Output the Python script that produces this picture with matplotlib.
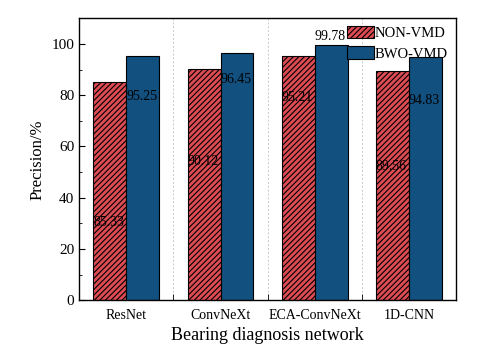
import matplotlib
matplotlib.use("Agg")
import matplotlib.pyplot as plt
import numpy as np

plt.rcParams['font.family'] = ['Liberation Serif', 'DejaVu Serif']
plt.rcParams['hatch.linewidth'] = 0.8

categories = ["ResNet", "ConvNeXt", "ECA-ConvNeXt", "1D-CNN"]
non_vmd = [85.33, 90.12, 95.21, 89.56]
bwo_vmd = [95.25, 96.45, 99.78, 94.83]
# where the value labels sit (data units), as in the original figure
non_label_y = [30.5, 54.0, 79.0, 52.0]
bwo_label_y = [79.5, 86.0, 103.0, 78.0]

x = np.arange(len(categories))
w = 0.35

fig, ax = plt.subplots(figsize=(4.8, 3.54), dpi=100)
fig.subplots_adjust(left=0.165, right=0.95, top=0.948, bottom=0.152)

ax.bar(x - w / 2, non_vmd, w, color="#DD4B53", edgecolor="black", linewidth=0.8,
       hatch="//////", label="NON-VMD")
ax.bar(x + w / 2, bwo_vmd, w, color="#11507F", edgecolor="black", linewidth=0.8,
       label="BWO-VMD")

for i in range(len(categories)):
    ax.text(x[i] - w, non_label_y[i], f"{non_vmd[i]:.2f}", ha="left", va="center", fontsize=10)
    ax.text(x[i], bwo_label_y[i], f"{bwo_vmd[i]:.2f}", ha="left", va="center", fontsize=10)

for sep in x[:-1] + 0.5:
    ax.axvline(sep, color="#C8C8C8", linestyle=(0, (2, 2)), linewidth=0.7, zorder=0)

ax.set_xlim(-0.5, len(categories) - 0.5)
ax.set_ylim(0, 110)
ax.set_yticks(range(0, 101, 20))
ax.set_yticks(range(10, 110, 20), minor=True)
ax.set_xticks(x)
ax.set_xticklabels(categories)
ax.set_xticks(x[:-1] + 0.5, minor=True)
ax.tick_params(axis="x", which="major", length=0, labelsize=10, pad=6)
ax.tick_params(axis="x", which="minor", direction="in", length=4)
ax.tick_params(axis="y", which="major", direction="in", length=4, labelsize=11)
ax.tick_params(axis="y", which="minor", direction="in", length=2.5)
for s in ax.spines.values():
    s.set_linewidth(1.0)

ax.set_xlabel("Bearing diagnosis network", fontsize=13)
ax.set_ylabel("Precision/%", fontsize=12)

ax.legend(loc="upper right", bbox_to_anchor=(0.985, 0.985), frameon=False, fontsize=10.5,
          handlelength=1.85, handleheight=0.95, borderaxespad=0.1, borderpad=0.1,
          labelspacing=0.45, handletextpad=0.05)

fig.savefig("out.png", dpi=100)
